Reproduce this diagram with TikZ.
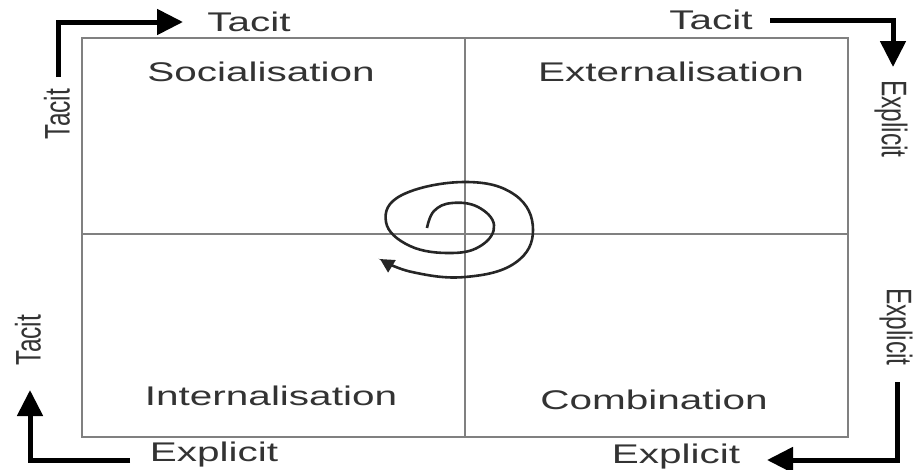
\documentclass[tikz,border=0pt]{standalone}
\usepackage{fontspec}
\setmainfont{Liberation Sans}
\usetikzlibrary{arrows.meta}
\newcommand\widetxt[1]{\scalebox{1.5}[1]{#1}}
\newcommand\talltxt[1]{\scalebox{1}[1.45]{#1}}
\begin{document}
\begin{tikzpicture}[x=1pt,y=-1pt,
  hlabel/.style={inner sep=0pt,text=black!80,font=\fontsize{27}{30}\selectfont},
  vlabel/.style={inner sep=0pt,text=black!80,font=\fontsize{24.5}{28}\selectfont},
  grid/.style={draw=black!50,line width=2pt},
  bigarrow/.style={line width=5pt,-{Triangle[length=26pt,width=25pt]}},
  spiral/.style={line width=2.6pt,draw=black!85,-{Triangle[length=14pt,width=14pt]}}]
\useasboundingbox (0,0) rectangle (917,469);
% quadrant frame
\coordinate (bl) at (82,437);
\coordinate (tr) at (848,38);
\coordinate (mt) at (465,38);
\coordinate (mb) at (465,437);
\coordinate (ml) at (82,234);
\coordinate (mr) at (848,234);
\draw[grid] (bl) rectangle (tr);
\draw[grid] (mt) -- (mb);
\draw[grid] (ml) -- (mr);
% quadrant labels
\node[hlabel] (soc) at (261,72) {\widetxt{Socialisation}};
\node[hlabel] (ext) at (671,72) {\widetxt{Externalisation}};
\node[hlabel] (int) at (271,396) {\widetxt{Internalisation}};
\node[hlabel] (com) at (654,400) {\widetxt{Combination}};
% axis labels
\node[hlabel] (ttl) at (249,22) {\widetxt{Tacit}};
\node[hlabel] (ttr) at (711,20) {\widetxt{Tacit}};
\node[hlabel,anchor=base] (ebl) at (214,461) {\widetxt{Explicit}};
\node[hlabel,anchor=base] (ebr) at (676,463) {\widetxt{Explicit}};
\node[vlabel,rotate=90] (vtl) at (57,114) {\talltxt{Tacit}};
\node[vlabel,rotate=90] (vbl) at (28,340) {\talltxt{Tacit}};
\node[vlabel,rotate=-90] (vtr) at (891,119) {\talltxt{Explicit}};
\node[vlabel,rotate=-90] (vbr) at (896,327) {\talltxt{Explicit}};
% corner arrows
\coordinate (a1s) at (58,77);   \coordinate (a1e) at (183,22);
\coordinate (a2s) at (770,20);  \coordinate (a2e) at (893,67);
\coordinate (a3s) at (130,460); \coordinate (a3e) at (30,390);
\coordinate (a4s) at (897,382); \coordinate (a4e) at (767,460);
\draw[bigarrow] (a1s) |- (a1e);
\draw[bigarrow] (a2s) -| (a2e);
\draw[bigarrow] (a3s) -| (a3e);
\draw[bigarrow] (a4s) |- (a4e);
% spiral
\draw[spiral] plot[smooth,tension=0.7] coordinates {(427,228) (434,211) (452,203) (478,207) (494,225) (482,245) (452,253) (410,246) (386,222) (402,195) (465,182) (515,195) (533,230) (515,263) (465,277) (412,272) (380,259)};
\end{tikzpicture}
\end{document}
